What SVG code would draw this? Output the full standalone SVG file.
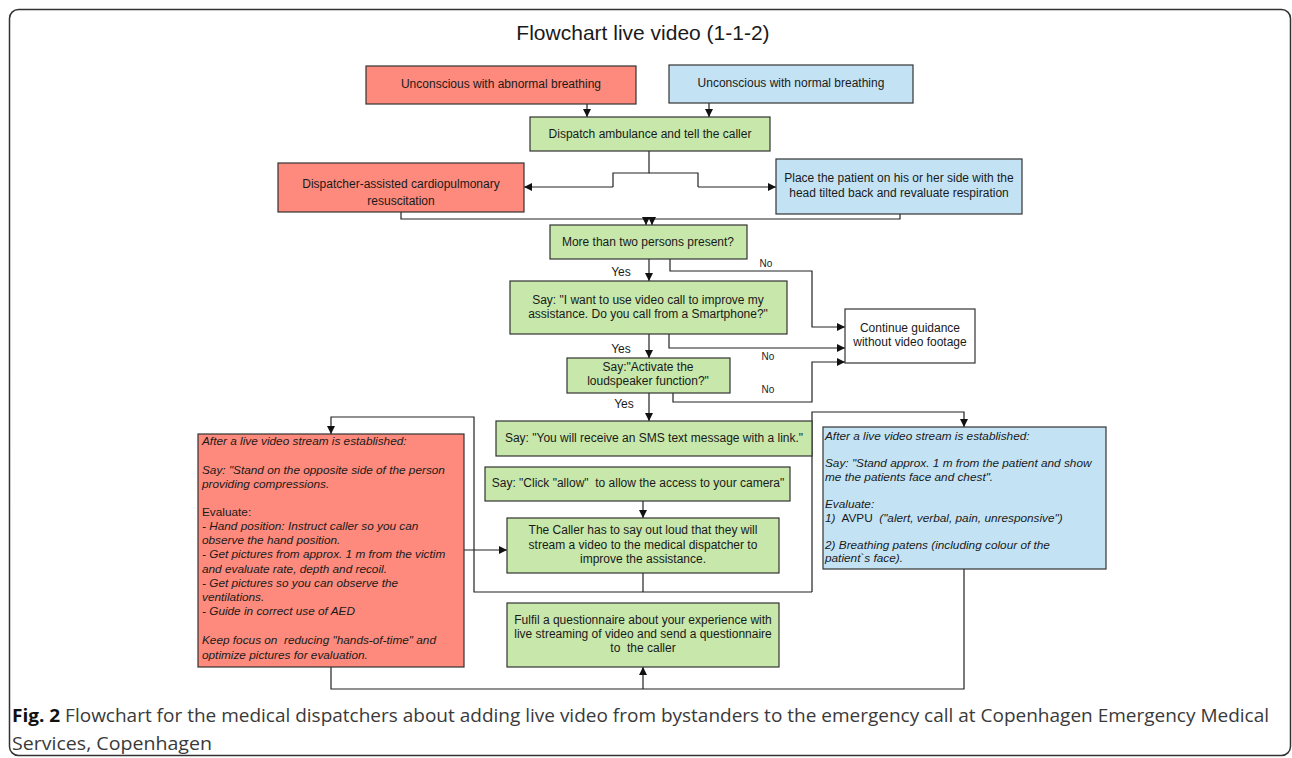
<svg xmlns="http://www.w3.org/2000/svg" width="1292" height="758" viewBox="0 0 1292 758">
<defs>
<marker id="ah" viewBox="0 0 10 10" refX="10" refY="5" markerWidth="8" markerHeight="8" markerUnits="userSpaceOnUse" orient="auto">
<path d="M0,0 L10,5 L0,10 z" fill="#111"/>
</marker>
</defs>
<style>
.r{fill:#fd8a7c;stroke:#333;stroke-width:1.2}
.b{fill:#c3e3f5;stroke:#333;stroke-width:1.2}
.g{fill:#c7e7ab;stroke:#333;stroke-width:1.2}
.w{fill:#fff;stroke:#333;stroke-width:1.2}
text{font-family:"Liberation Sans",Arial,sans-serif;fill:#1a1a1a;white-space:pre}
.t{font-size:12px;text-anchor:middle}
.l{font-size:11.8px}
.i{font-style:italic}
.lab{font-size:12px;text-anchor:middle}
.no{font-size:10px;text-anchor:middle}
.c{fill:none;stroke:#222;stroke-width:1.2}
.ca{fill:none;stroke:#222;stroke-width:1.2;marker-end:url(#ah)}
.cap{font-family:"Open Sans","Noto Sans",sans-serif;font-size:18px;fill:#3a3a3a}
</style>
<rect x="9.5" y="9.5" width="1281" height="746" rx="9" fill="#fff" stroke="#333" stroke-width="1.5"/>
<text x="643" y="40" style="font-size:21px;text-anchor:middle">Flowchart live video (1-1-2)</text>

<g id="connectors">
<path class="ca" d="M587,104 V117"/>
<path class="ca" d="M709,103 V117"/>
<path class="c" d="M649,151 V173 H613 V187"/>
<path class="ca" d="M613,187 H524"/>
<path class="c" d="M649,173 H698 V187"/>
<path class="ca" d="M698,187 H776"/>
<path class="ca" d="M401,212 V219 H646 V225"/>
<path class="ca" d="M900,214 V219 H652 V225"/>
<path class="ca" d="M649,259 V281"/>
<path class="ca" d="M670,259 V271 H812 V327 H845"/>
<path class="ca" d="M649,334 V358"/>
<path class="ca" d="M669,334 V348 H845"/>
<path class="ca" d="M673,393 V402 H812 V362 H845"/>
<path class="ca" d="M649,393 V421"/>
<path class="ca" d="M643,501 V518"/>
<path class="ca" d="M464,550 H507"/>
<path class="c" d="M643,573 V592"/>
<path class="ca" d="M812,592 H474 V417 H331 V434"/>
<path class="ca" d="M812,592 V412 H964 V427"/>
<path class="c" d="M331,667 V689 H964 V569"/>
<path class="ca" d="M643,689 V667"/>
</g>

<g id="n-abnormal"><rect class="r" x="366" y="66" width="270" height="38"/><text class="t" x="501" y="88">Unconscious with abnormal breathing</text></g>
<g id="n-normal"><rect class="b" x="669" y="65" width="244" height="38"/><text class="t" x="791" y="87">Unconscious with normal breathing</text></g>
<g id="n-dispatch"><rect class="g" x="530" y="117" width="240" height="34"/><text class="t" x="650" y="138">Dispatch ambulance and tell the caller</text></g>
<g id="n-cpr"><rect class="r" x="278" y="163" width="246" height="49"/><text class="t" x="401" y="188">Dispatcher-assisted cardiopulmonary</text><text class="t" x="401" y="205">resuscitation</text></g>
<g id="n-place"><rect class="b" x="776" y="159" width="246" height="55"/><text class="t" x="899" y="182">Place the patient on his or her side with the</text><text class="t" x="899" y="197">head tilted back and revaluate respiration</text></g>
<g id="n-persons"><rect class="g" x="550" y="225" width="197" height="34"/><text class="t" x="648" y="246">More than two persons present?</text></g>
<g id="n-videocall"><rect class="g" x="510" y="281" width="277" height="53"/><text class="t" x="648" y="304">Say: "I want to use video call to improve my</text><text class="t" x="648" y="318">assistance. Do you call from a Smartphone?"</text></g>
<g id="n-continue"><rect class="w" x="845" y="309" width="130" height="54"/><text class="t" x="910" y="332">Continue guidance</text><text class="t" x="910" y="346">without video footage</text></g>
<g id="n-loudspeaker"><rect class="g" x="567" y="358" width="163" height="35"/><text class="t" x="648" y="371">Say:"Activate the</text><text class="t" x="648" y="385">loudspeaker function?"</text></g>
<g id="n-sms"><rect class="g" x="496" y="421" width="316" height="35"/><text class="t" x="654" y="442">Say: "You will receive an SMS text message with a link."</text></g>
<g id="n-allow"><rect class="g" x="485" y="467" width="305" height="34"/><text class="t" x="638" y="487">Say: "Click "allow"  to allow the access to your camera"</text></g>
<g id="n-caller"><rect class="g" x="507" y="518" width="272" height="55"/><text class="t" x="643" y="534">The Caller has to say out loud that they will</text><text class="t" x="643" y="549">stream a video to the medical dispatcher to</text><text class="t" x="643" y="563">improve the assistance.</text></g>
<g id="n-questionnaire"><rect class="g" x="507" y="603" width="272" height="64"/><text class="t" x="643" y="624">Fulfil a questionnaire about your experience with</text><text class="t" x="643" y="638">live streaming of video and send a questionnaire</text><text class="t" x="643" y="652">to  the caller</text></g>

<g id="n-red-eval"><rect class="r" x="198" y="434" width="266" height="233"/>
<text class="l i" x="202" y="445">After a live video stream is established:</text>
<text class="l i" x="202" y="474">Say: "Stand on the opposite side of the person</text>
<text class="l i" x="202" y="488">providing compressions.</text>
<text class="l" x="202" y="516">Evaluate:</text>
<text class="l i" x="202" y="530">- Hand position: Instruct caller so you can</text>
<text class="l i" x="202" y="544">observe the hand position.</text>
<text class="l i" x="202" y="558">- Get pictures from approx. 1 m from the victim</text>
<text class="l i" x="202" y="573">and evaluate rate, depth and recoil.</text>
<text class="l i" x="202" y="587">- Get pictures so you can observe the</text>
<text class="l i" x="202" y="601">ventilations.</text>
<text class="l i" x="202" y="615">- Guide in correct use of AED</text>
<text class="l i" x="202" y="644">Keep focus on  reducing "hands-of-time" and</text>
<text class="l i" x="202" y="659">optimize pictures for evaluation.</text>
</g>

<g id="n-blue-eval"><rect class="b" x="823" y="427" width="283" height="142"/>
<text class="l i" x="825" y="440">After a live video stream is established:</text>
<text class="l i" x="825" y="467">Say: "Stand approx. 1 m from the patient and show</text>
<text class="l i" x="825" y="481">me the patients face and chest".</text>
<text class="l i" x="825" y="508">Evaluate:</text>
<text class="l" x="825" y="522"><tspan class="i">1)</tspan>  AVPU  <tspan class="i">("alert, verbal, pain, unresponsive")</tspan></text>
<text class="l i" x="825" y="549">2) Breathing patens (including colour of the</text>
<text class="l i" x="825" y="562">patient`s face).</text>
</g>

<g id="labels">
<text class="lab" x="621" y="276">Yes</text>
<text class="no" x="766" y="267">No</text>
<text class="lab" x="621" y="353">Yes</text>
<text class="no" x="768" y="360">No</text>
<text class="no" x="768" y="393">No</text>
<text class="lab" x="624" y="408">Yes</text>
</g>

<g id="caption">
<text class="cap" x="12" y="722" textLength="1257" lengthAdjust="spacingAndGlyphs"><tspan style="font-weight:bold;fill:#111">Fig. 2</tspan> Flowchart for the medical dispatchers about adding live video from bystanders to the emergency call at Copenhagen Emergency Medical</text>
<text class="cap" x="12" y="750" textLength="200" lengthAdjust="spacingAndGlyphs">Services, Copenhagen</text>
</g>
</svg>
